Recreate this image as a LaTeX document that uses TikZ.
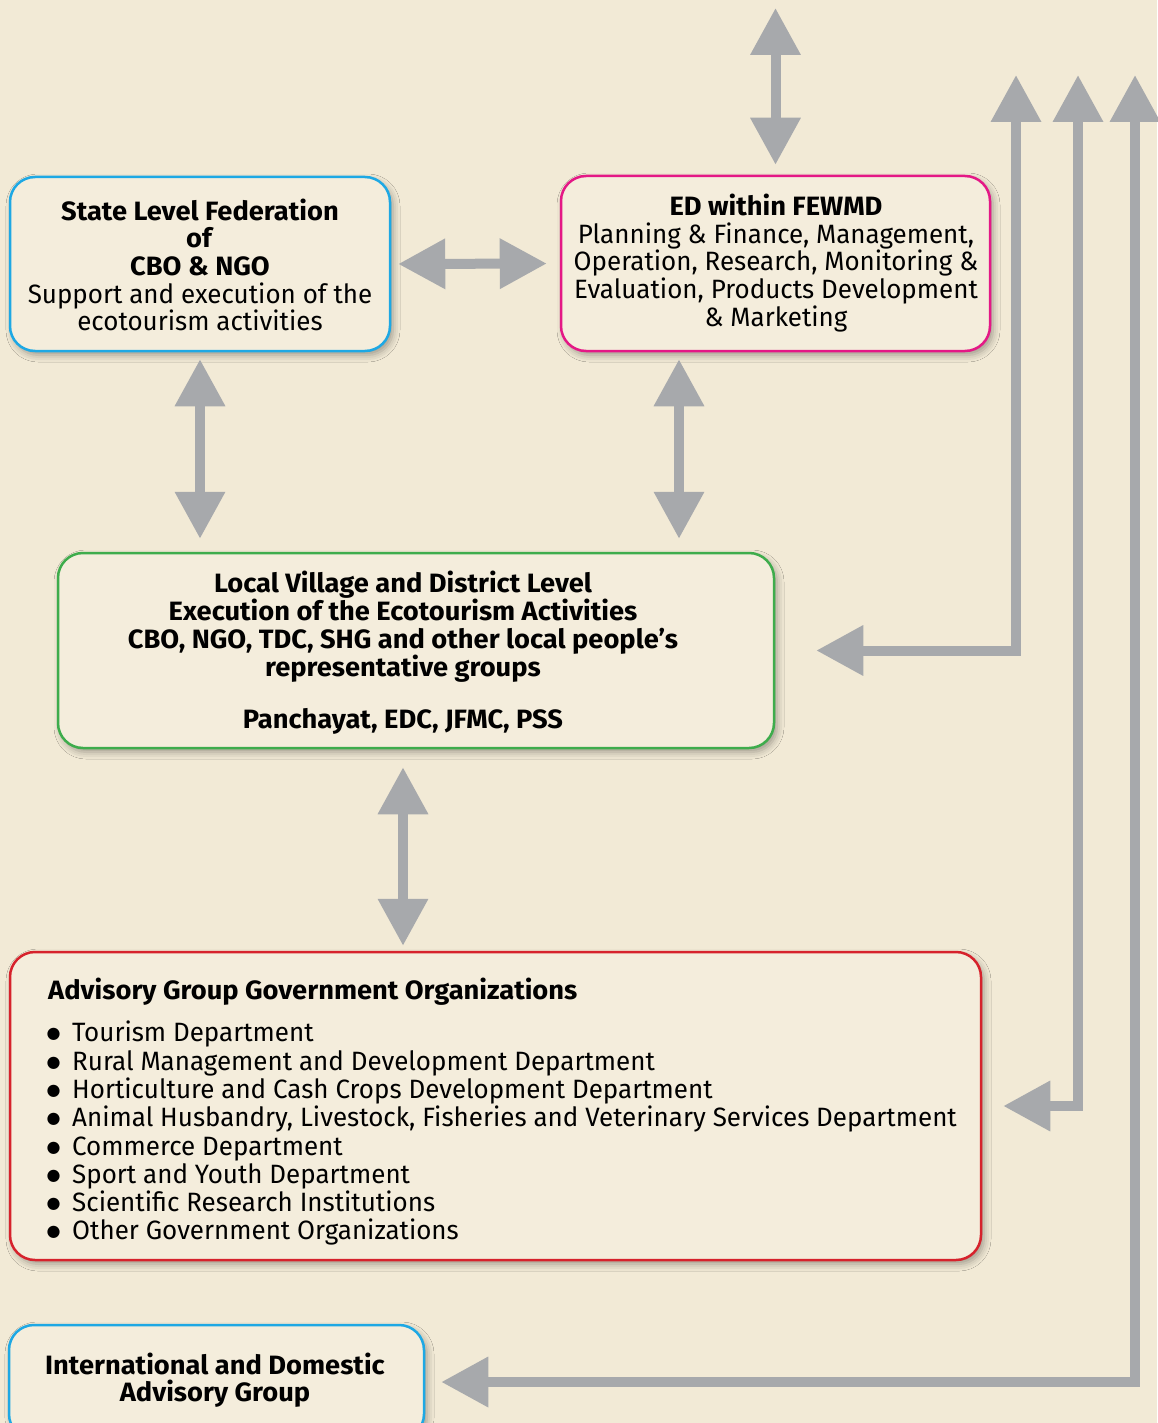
\documentclass[tikz,border=0pt]{standalone}
\usepackage{fontspec}
\setmainfont{Fira Sans}[FakeStretch=0.98, BoldFeatures={FakeStretch=1.03}]
\newfontfamily\symfont{DejaVu Sans}
\usetikzlibrary{arrows.meta,shadows.blur,calc}
\definecolor{bgc}{RGB}{242,234,214}
\definecolor{boxbg}{RGB}{244,237,220}
\definecolor{arrgray}{RGB}{167,169,172}
\definecolor{cblue}{RGB}{29,168,228}
\definecolor{cpink}{RGB}{228,24,134}
\definecolor{cgreen}{RGB}{62,172,76}
\definecolor{cred}{RGB}{214,34,44}
\newcommand\itm[1]{\makebox[28pt][l]{\hspace{2.5pt}\raisebox{3pt}{\symfont\fontsize{16}{16}\selectfont ●}}#1}
\tikzset{
  bigtip/.tip={Triangle[width=48pt,length=47pt]},
  box/.style={draw=#1, line width=2.5pt, rounded corners=25pt, fill=boxbg,
    blur shadow={shadow xshift=3pt, shadow yshift=-4pt, shadow opacity=35, shadow blur radius=7pt}},
  txt/.style={align=center, inner sep=0pt, font=\fontsize{26.5}{27.6}\selectfont},
  arr/.style={draw=arrgray, line width=10pt, line join=miter},
}
\begin{document}
\begin{tikzpicture}[x=1pt,y=-1pt]
\fill[bgc] (0,0) rectangle (1157,1423);
\useasboundingbox (0,0) rectangle (1157,1423);

% boxes
\node[box=cblue, minimum width=380pt, minimum height=174pt] (b1) at (200,264) {};
\node[box=cpink, minimum width=429pt, minimum height=175pt] (b2) at (775.5,263.5) {};
\node[box=cgreen, minimum width=716pt, minimum height=195pt] (b3) at (416,650.5) {};
\node[box=cred, minimum width=971pt, minimum height=308pt] (b4) at (495.5,1106) {};
\node[box=cblue, minimum width=415pt, minimum height=114pt] (b5) at (216.5,1382) {};

% texts
\node[txt] (t1) at (200,265) {\textbf{State Level Federation}\\ \textbf{of}\\ \textbf{CBO \& NGO}\\ Support and execution of the\\ ecotourism activities};
\node[txt] (t2) at (776,263) {\textbf{ED within FEWMD}\\ Planning \& Finance, Management,\\ Operation, Research, Monitoring \&\\ Evaluation, Products Development\\ \& Marketing};
\node[txt, font=\fontsize{26.5}{28}\selectfont\bfseries] (t3) at (403,653) {Local Village and District Level\\ Execution of the Ecotourism Activities\\ CBO, NGO, TDC, SHG and other local people's\\ representative groups\\[24pt] Panchayat, EDC, JFMC, PSS};
\node[txt, anchor=west] (t4) at (48,992) {\textbf{Advisory Group Government Organizations}};
\node[txt, align=left, anchor=north west, font=\fontsize{26.5}{28.3}\selectfont] (t4l) at (44,1021) {\itm{Tourism Department}\\ \itm{Rural Management and Development Department}\\ \itm{Horticulture and Cash Crops Development Department}\\ \itm{Animal Husbandry, Livestock, Fisheries and Veterinary Services Department}\\ \itm{Commerce Department}\\ \itm{Sport and Youth Department}\\ \itm{Scientific Research Institutions}\\ \itm{Other Government Organizations}};
\node[txt, font=\fontsize{26.5}{26.5}\selectfont\bfseries] (t5) at (215,1380) {International and Domestic\\ Advisory Group};

% coordinates for connectors
\coordinate (top) at (775.5,8);
\coordinate (c2) at ([xshift=-96.5pt]b2.south);
\coordinate (c3) at ([xshift=-13pt]b3.south);
\coordinate (r1) at (1016,75);
\coordinate (r2) at (1078,75);
\coordinate (r3) at (1135,75);

% connectors
\draw[arr, {bigtip}-{bigtip}, shorten >=10pt] (top) -- (b2.north);
\draw[arr, {bigtip}-{bigtip}, shorten <=7pt, shorten >=13pt] (b1.east) -- (b2.west);
\draw[arr, {bigtip}-{bigtip}, shorten <=7pt, shorten >=13pt] (b1.south) -- (b1.south |- b3.north);
\draw[arr, {bigtip}-{bigtip}, shorten <=7pt, shorten >=13pt] (c2) -- (c2 |- b3.north);
\draw[arr, {bigtip}-{bigtip}, shorten <=18pt, shorten >=5pt] (c3) -- (c3 |- b4.north);
\draw[arr, {bigtip}-{bigtip}, shorten >=41pt] (r1) |- (b3.east);
\draw[arr, {bigtip}-{bigtip}, shorten >=21pt] (r2) |- (b4.east);
\draw[arr, {bigtip}-{bigtip}, shorten >=16pt] (r3) |- (b5.east);
\end{tikzpicture}
\end{document}
